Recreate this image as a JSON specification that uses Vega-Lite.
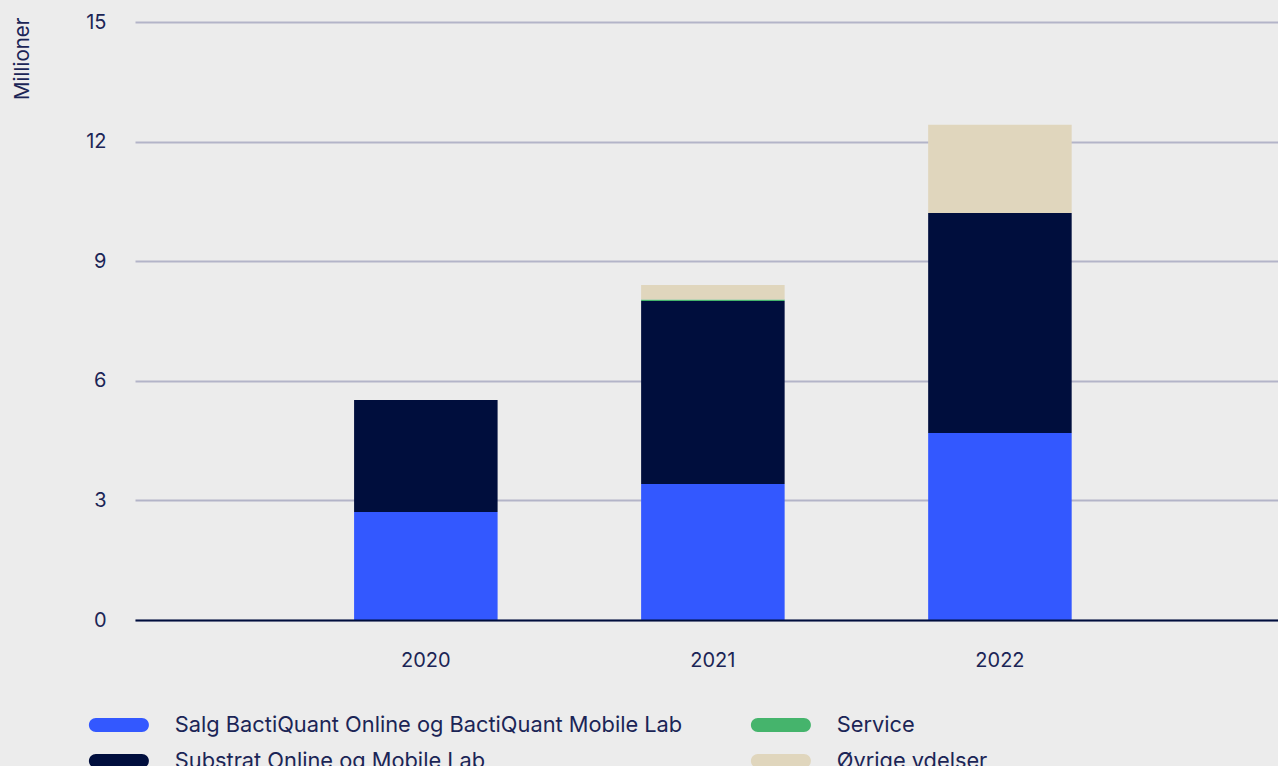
{
  "$schema": "https://vega.github.io/schema/vega-lite/v6.json",
  "autosize": "none",
  "width": 1143,
  "height": 598,
  "padding": {"left": 135, "top": 22, "right": 0, "bottom": 146},
  "background": "#ececec",
  "config": {
    "view": {"stroke": null},
    "font": "Inter",
    "axis": {"labelFont": "Inter", "titleFont": "Inter"},
    "legend": {"labelFont": "Inter"}
  },
  "data": {
    "values": [
      {"year": "2020", "category": "Salg BactiQuant Online og BactiQuant Mobile Lab", "order": 1, "value": 2.71},
      {"year": "2020", "category": "Substrat Online og Mobile Lab", "order": 2, "value": 2.81},
      {"year": "2020", "category": "Service", "order": 3, "value": 0},
      {"year": "2020", "category": "Øvrige ydelser", "order": 4, "value": 0},
      {"year": "2021", "category": "Salg BactiQuant Online og BactiQuant Mobile Lab", "order": 1, "value": 3.41},
      {"year": "2021", "category": "Substrat Online og Mobile Lab", "order": 2, "value": 4.59},
      {"year": "2021", "category": "Service", "order": 3, "value": 0.04},
      {"year": "2021", "category": "Øvrige ydelser", "order": 4, "value": 0.36},
      {"year": "2022", "category": "Salg BactiQuant Online og BactiQuant Mobile Lab", "order": 1, "value": 4.69},
      {"year": "2022", "category": "Substrat Online og Mobile Lab", "order": 2, "value": 5.52},
      {"year": "2022", "category": "Service", "order": 3, "value": 0},
      {"year": "2022", "category": "Øvrige ydelser", "order": 4, "value": 2.21}
    ]
  },
  "mark": {"type": "bar"},
  "encoding": {
    "x": {
      "field": "year",
      "type": "nominal",
      "scale": {"paddingInner": 0.5, "paddingOuter": 0.741, "align": 0.515},
      "axis": {
        "title": null,
        "labelAngle": 0,
        "labelFontSize": 20,
        "labelColor": "#1b2556",
        "labelPadding": 30,
        "ticks": false,
        "domain": true,
        "domainColor": "#000e3d",
        "domainWidth": 2,
        "zindex": 1
      }
    },
    "y": {
      "field": "value",
      "type": "quantitative",
      "stack": "zero",
      "scale": {"domain": [0, 15], "nice": false},
      "axis": {
        "values": [0, 3, 6, 9, 12, 15],
        "title": "Millioner",
        "titleAngle": -90,
        "titleAlign": "right",
        "titleBaseline": "top",
        "titleX": -123,
        "titleY": -5,
        "titleFontSize": 20.5,
        "titleFontWeight": "normal",
        "titleColor": "#1b2556",
        "labelFontSize": 20,
        "labelColor": "#1b2556",
        "labelPadding": 29,
        "ticks": false,
        "domain": false,
        "gridColor": "#b3b4c8",
        "gridWidth": 2
      }
    },
    "order": {"field": "order", "type": "quantitative"},
    "color": {
      "field": "category",
      "type": "nominal",
      "scale": {
        "domain": ["Salg BactiQuant Online og BactiQuant Mobile Lab", "Service", "Substrat Online og Mobile Lab", "Øvrige ydelser"],
        "range": ["#3358ff", "#45b46c", "#000e3d", "#e0d6bd"]
      },
      "legend": {
        "title": null,
        "orient": "none",
        "legendX": -27,
        "legendY": 692,
        "direction": "horizontal",
        "columns": 2,
        "labelFontSize": 21.8,
        "labelColor": "#1b2556",
        "labelLimit": 700,
        "symbolType": "M-3.286,-1 L3.286,-1 A1,1 0 0 1 3.286,1 L-3.286,1 A1,1 0 0 1 -3.286,-1 Z",
        "symbolSize": 196,
        "symbolOpacity": 1,
        "symbolStrokeWidth": 0,
        "labelOffset": 45,
        "rowPadding": 13,
        "columnPadding": 67
      }
    }
  }
}
